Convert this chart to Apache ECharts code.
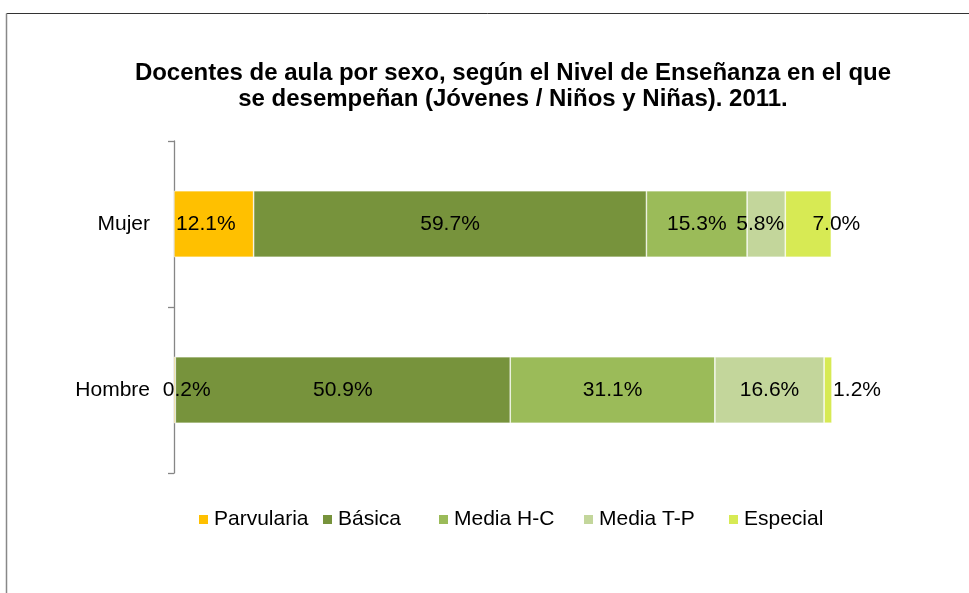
<!DOCTYPE html>
<html>
<head>
<meta charset="utf-8">
<script src="https://cdn.jsdelivr.net/npm/echarts@6/dist/echarts.min.js"></script>
<style>
html, body { margin: 0; padding: 0; background: #fff; }
#main { width: 969px; height: 593px; }
</style>
</head>
<body>
<div id="main"></div>
<script>
var categories = ['Mujer', 'Hombre'];
var seriesNames = ['Parvularia', 'Básica', 'Media H-C', 'Media T-P', 'Especial'];
var parvularia = [12.1, 0.2];
var basica = [59.7, 50.9];
var mediaHC = [15.3, 31.1];
var mediaTP = [5.8, 16.6];
var especial = [7.0, 1.2];

var colors = ['#FFC000', '#77933C', '#9BBB59', '#C3D69B', '#D7EA54'];
// desplazamiento de etiquetas como en el original (px, por serie y categoria)
var labelShift = [[-8, 12], [0, 0], [0, 0], [-6, 0], [28, 29]];
// posicion x de cada item de la leyenda
var legendX = [197, 321, 437, 582, 727];

var values = [parvularia, basica, mediaHC, mediaTP, especial];

var myChart = echarts.init(document.getElementById('main'));

var series = values.map(function (arr, i) {
    return {
        name: seriesNames[i],
        type: 'bar',
        stack: 'total',
        barWidth: '40%',
        itemStyle: { color: colors[i], borderColor: '#ffffff', borderWidth: 0.6 },
        label: {
            show: true,
            position: 'inside',
            color: '#000',
            fontFamily: 'Liberation Sans',
            fontSize: 21,
            formatter: function (p) { return p.value.toFixed(1) + '%'; }
        },
        data: arr.map(function (v, j) {
            return { value: v, label: { offset: [labelShift[i][j], 0] } };
        })
    };
});

var legends = seriesNames.map(function (n, i) {
    return {
        data: [n],
        left: legendX[i],
        top: 509,
        padding: 0,
        icon: 'rect',
        itemWidth: 11,
        itemHeight: 11,
        textStyle: { fontFamily: 'Liberation Sans', fontSize: 21, color: '#000' }
    };
});

option = {
    animation: false,
    title: {
        text: 'Docentes de aula por sexo, según el Nivel de Enseñanza en el que\nse desempeñan (Jóvenes / Niños y Niñas). 2011.',
        left: 508,
        top: 55,
        textAlign: 'center',
        textStyle: {
            fontFamily: 'Liberation Sans',
            fontSize: 24,
            fontWeight: 'bold',
            color: '#000',
            lineHeight: 26
        }
    },
    legend: legends,
    grid: {
        left: 174,
        right: 137,
        top: 141,
        bottom: 120
    },
    xAxis: {
        type: 'value',
        min: 0,
        max: 100,
        show: false
    },
    yAxis: {
        type: 'category',
        inverse: true,
        data: categories,
        axisLine: { show: true, lineStyle: { color: '#868686', width: 1.3 } },
        axisTick: { show: true, length: 6, lineStyle: { color: '#868686', width: 1.3 } },
        axisLabel: { margin: 24, color: '#000', fontFamily: 'Liberation Sans', fontSize: 21 }
    },
    graphic: [
        { type: 'line', shape: { x1: 6.5, y1: 13.5, x2: 969, y2: 13.5 }, style: { stroke: '#333', lineWidth: 1 } },
        { type: 'line', shape: { x1: 6.5, y1: 13.5, x2: 6.5, y2: 593 }, style: { stroke: '#888', lineWidth: 1.5 } }
    ],
    series: series
};
myChart.setOption(option);
</script>
</body>
</html>
